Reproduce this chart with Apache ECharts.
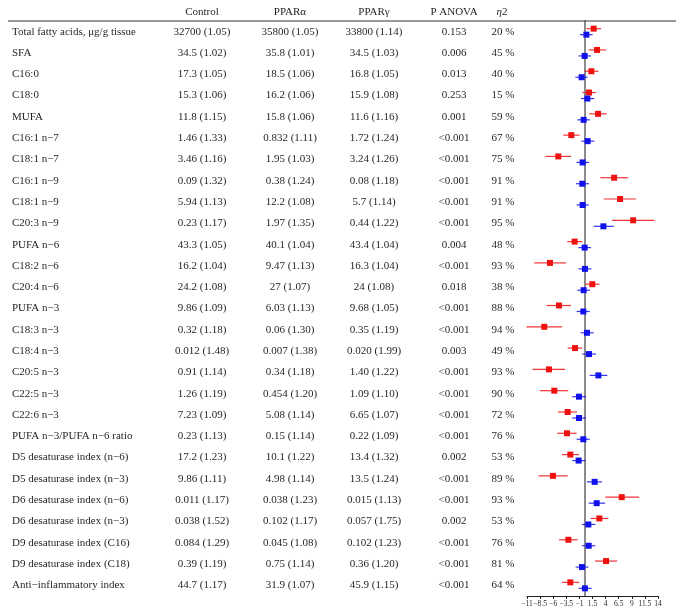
<!DOCTYPE html>
<html>
<head>
<meta charset="utf-8">
<script src="https://cdn.jsdelivr.net/npm/echarts@6/dist/echarts.min.js"></script>
<style>html,body{margin:0;padding:0;background:#fff}#c{width:683px;height:616px}</style>
</head>
<body>
<div id="c"></div>
<script>
const rowLabels = ['Total fatty acids, \u03bcg/g tissue','SFA','C16:0','C18:0','MUFA','C16:1 n\u22127','C18:1 n\u22127','C16:1 n\u22129','C18:1 n\u22129','C20:3 n\u22129','PUFA n\u22126','C18:2 n\u22126','C20:4 n\u22126','PUFA n\u22123','C18:3 n\u22123','C18:4 n\u22123','C20:5 n\u22123','C22:5 n\u22123','C22:6 n\u22123','PUFA n\u22123/PUFA n\u22126 ratio','D5 desaturase index (n\u22126)','D5 desaturase index (n\u22123)','D6 desaturase index (n\u22126)','D6 desaturase index (n\u22123)','D9 desaturase index (C16)','D9 desaturase index (C18)','Anti\u2212inflammatory index'];
const controlCol = ['32700 (1.05)','34.5 (1.02)','17.3 (1.05)','15.3 (1.06)','11.8 (1.15)','1.46 (1.33)','3.46 (1.16)','0.09 (1.32)','5.94 (1.13)','0.23 (1.17)','43.3 (1.05)','16.2 (1.04)','24.2 (1.08)','9.86 (1.09)','0.32 (1.18)','0.012 (1.48)','0.91 (1.14)','1.26 (1.19)','7.23 (1.09)','0.23 (1.13)','17.2 (1.23)','9.86 (1.11)','0.011 (1.17)','0.038 (1.52)','0.084 (1.29)','0.39 (1.19)','44.7 (1.17)'];
const pparaCol = ['35800 (1.05)','35.8 (1.01)','18.5 (1.06)','16.2 (1.06)','15.8 (1.06)','0.832 (1.11)','1.95 (1.03)','0.38 (1.24)','12.2 (1.08)','1.97 (1.35)','40.1 (1.04)','9.47 (1.13)','27 (1.07)','6.03 (1.13)','0.06 (1.30)','0.007 (1.38)','0.34 (1.18)','0.454 (1.20)','5.08 (1.14)','0.15 (1.14)','10.1 (1.22)','4.98 (1.14)','0.038 (1.23)','0.102 (1.17)','0.045 (1.08)','0.75 (1.14)','31.9 (1.07)'];
const ppargCol = ['33800 (1.14)','34.5 (1.03)','16.8 (1.05)','15.9 (1.08)','11.6 (1.16)','1.72 (1.24)','3.24 (1.26)','0.08 (1.18)','5.7 (1.14)','0.44 (1.22)','43.4 (1.04)','16.3 (1.04)','24 (1.08)','9.68 (1.05)','0.35 (1.19)','0.020 (1.99)','1.40 (1.22)','1.09 (1.10)','6.65 (1.07)','0.22 (1.09)','13.4 (1.32)','13.5 (1.24)','0.015 (1.13)','0.057 (1.75)','0.102 (1.23)','0.36 (1.20)','45.9 (1.15)'];
const pAnovaCol = ['0.153','0.006','0.013','0.253','0.001','<0.001','<0.001','<0.001','<0.001','<0.001','0.004','<0.001','0.018','<0.001','<0.001','0.003','<0.001','<0.001','<0.001','<0.001','0.002','<0.001','<0.001','0.002','<0.001','<0.001','<0.001'];
const eta2Col = ['20 %','45 %','40 %','15 %','59 %','67 %','75 %','91 %','91 %','95 %','48 %','93 %','38 %','88 %','94 %','49 %','93 %','90 %','72 %','76 %','53 %','89 %','93 %','53 %','76 %','81 %','64 %'];

// PPARalpha effect (red): estimate, lower, upper
const alphaEst = [1.72,2.37,1.28,0.84,2.56,-2.54,-5.03,5.62,6.77,9.25,-1.91,-6.62,1.47,-4.9,-7.71,-1.84,-6.81,-5.79,-3.24,-3.37,-2.73,-6.05,7.08,2.81,-3.1,4.09,-2.73];
const alphaLo  = [0.38,0.77,-0.06,-0.44,0.9,-4.07,-7.5,3.0,3.64,5.23,-3.31,-9.62,0.13,-7.27,-11.09,-3.24,-9.94,-8.53,-5.09,-5.22,-4.33,-8.8,3.96,1.15,-4.9,1.98,-4.33];
const alphaHi  = [3.13,4.09,2.62,2.18,4.2,-0.96,-2.6,8.3,9.83,13.33,-0.44,-3.56,2.81,-2.6,-4.32,-0.44,-3.75,-3.12,-1.46,-1.53,-1.08,-3.24,10.4,4.53,-1.35,6.19,-1.02];
// PPARgamma effect (blue)
const gammaEst = [0.33,0.0,-0.57,0.52,-0.19,0.57,-0.38,-0.44,-0.38,3.58,0.0,0.06,-0.19,-0.25,0.45,0.83,2.62,-1.08,-1.08,-0.25,-1.15,1.91,2.3,0.71,0.77,-0.5,0.06];
const gammaLo  = [-0.88,-1.15,-1.78,-0.69,-1.4,-0.63,-1.53,-1.65,-1.53,1.72,-1.21,-1.15,-1.4,-1.53,-0.76,-0.44,0.96,-2.35,-2.35,-1.53,-2.35,0.45,0.77,-0.5,-0.5,-1.72,-1.15];
const gammaHi  = [1.53,1.22,0.57,1.85,1.03,1.85,0.84,0.84,0.78,5.55,1.22,1.28,1.03,0.97,1.72,2.18,4.34,0.26,0.26,0.97,0.19,3.32,3.9,2.05,2.05,0.71,1.34];

const xTicks = [-11,-8.5,-6,-3.5,-1,1.5,4,6.5,9,11.5,14];
const headers = ['Control','PPAR\u03b1','PPAR\u03b3','P ANOVA'];

const FONT = 'Liberation Serif';
const TXT = '#231f20';
const RED = '#ee1111', BLUE = '#1111ee';

const chart = echarts.init(document.getElementById('c'));

function labelAxis(col, margin, align) {
  return {
    type: 'category', gridIndex: 0, position: 'left', inverse: true,
    data: rowLabels,
    axisLine: {show: false, onZero: false}, axisTick: {show: false},
    splitLine: {show: false},
    axisLabel: {
      interval: 0, margin: margin, align: align, hideOverlap: false,
      fontFamily: FONT, fontSize: 11, color: TXT,
      formatter: function (v, i) { return col[i]; }
    }
  };
}

function ciSeries(lo, hi, color, dy) {
  return {
    type: 'custom', xAxisIndex: 0, yAxisIndex: 0, z: 3,
    data: lo.map((v, i) => [v, hi[i], i]),
    encode: {x: [0, 1], y: 2},
    renderItem: function (params, api) {
      const a = api.coord([api.value(0), api.value(2)]);
      const b = api.coord([api.value(1), api.value(2)]);
      return {type: 'line', shape: {x1: a[0], y1: a[1] + dy, x2: b[0], y2: b[1] + dy},
              style: {stroke: color, lineWidth: 1.2, opacity: 0.85}};
    }
  };
}

function ptSeries(est, color, dy) {
  return {
    type: 'scatter', xAxisIndex: 0, yAxisIndex: 0, z: 4,
    symbol: 'rect', symbolSize: 6, symbolOffset: [0, dy],
    itemStyle: {color: color, opacity: 1},
    data: est.map((v, i) => [v, i]),
    silent: true
  };
}

const colCenters = [202, 290, 374, 454];
const gridLeft = 527;

const option = {
  animation: false,
  backgroundColor: '#fff',
  grid: {left: gridLeft, width: 131, top: 21, height: 575, outerBoundsMode: 'none', containLabel: false},
  xAxis: {
    type: 'value', min: xTicks[0], max: xTicks[xTicks.length - 1], interval: xTicks[1] - xTicks[0],
    position: 'bottom',
    axisLine: {show: true, onZero: false, lineStyle: {color: '#222', width: 1}},
    axisTick: {show: true, length: 3, lineStyle: {color: '#222'}},
    splitLine: {show: false},
    axisLabel: {
      margin: 4, fontFamily: FONT, fontSize: 7.5, color: TXT, showMinLabel: true, showMaxLabel: true,
      formatter: function (v) { return String(v).replace('-', '\u2212'); }
    }
  },
  yAxis: [
    {
      type: 'category', inverse: true, data: rowLabels,
      axisLine: {show: true, onZero: true, lineStyle: {color: '#8c8c8c', width: 2}},
      axisTick: {show: false}, axisLabel: {show: false}, splitLine: {show: false}
    },
    labelAxis(rowLabels, gridLeft - 12, 'left'),
    labelAxis(controlCol, gridLeft - colCenters[0], 'center'),
    labelAxis(pparaCol, gridLeft - colCenters[1], 'center'),
    labelAxis(ppargCol, gridLeft - colCenters[2], 'center'),
    labelAxis(pAnovaCol, gridLeft - colCenters[3], 'center'),
    labelAxis(eta2Col, gridLeft - 503, 'center')
  ],
  series: [
    ciSeries(alphaLo, alphaHi, RED, -3),
    ciSeries(gammaLo, gammaHi, BLUE, 3),
    ptSeries(alphaEst, RED, -3),
    ptSeries(gammaEst, BLUE, 3)
  ],
  graphic: [
    {type: 'line', shape: {x1: 8, y1: 21, x2: 676, y2: 21}, style: {stroke: '#333', lineWidth: 1}, z: 10},
    ...headers.map((h, k) => ({
      type: 'text', x: colCenters[k], y: 12,
      style: {text: h, fontFamily: FONT, fontSize: 11, fill: TXT, align: 'center', verticalAlign: 'middle'}
    })),
    {type: 'text', x: 502, y: 12,
     style: {text: '{i|\u03b7}2', fontFamily: FONT, fontSize: 11, fill: TXT, align: 'center', verticalAlign: 'middle',
             rich: {i: {fontFamily: FONT, fontSize: 11, fontStyle: 'italic', fill: TXT}}}}
  ]
};
chart.setOption(option);
</script>
</body>
</html>
